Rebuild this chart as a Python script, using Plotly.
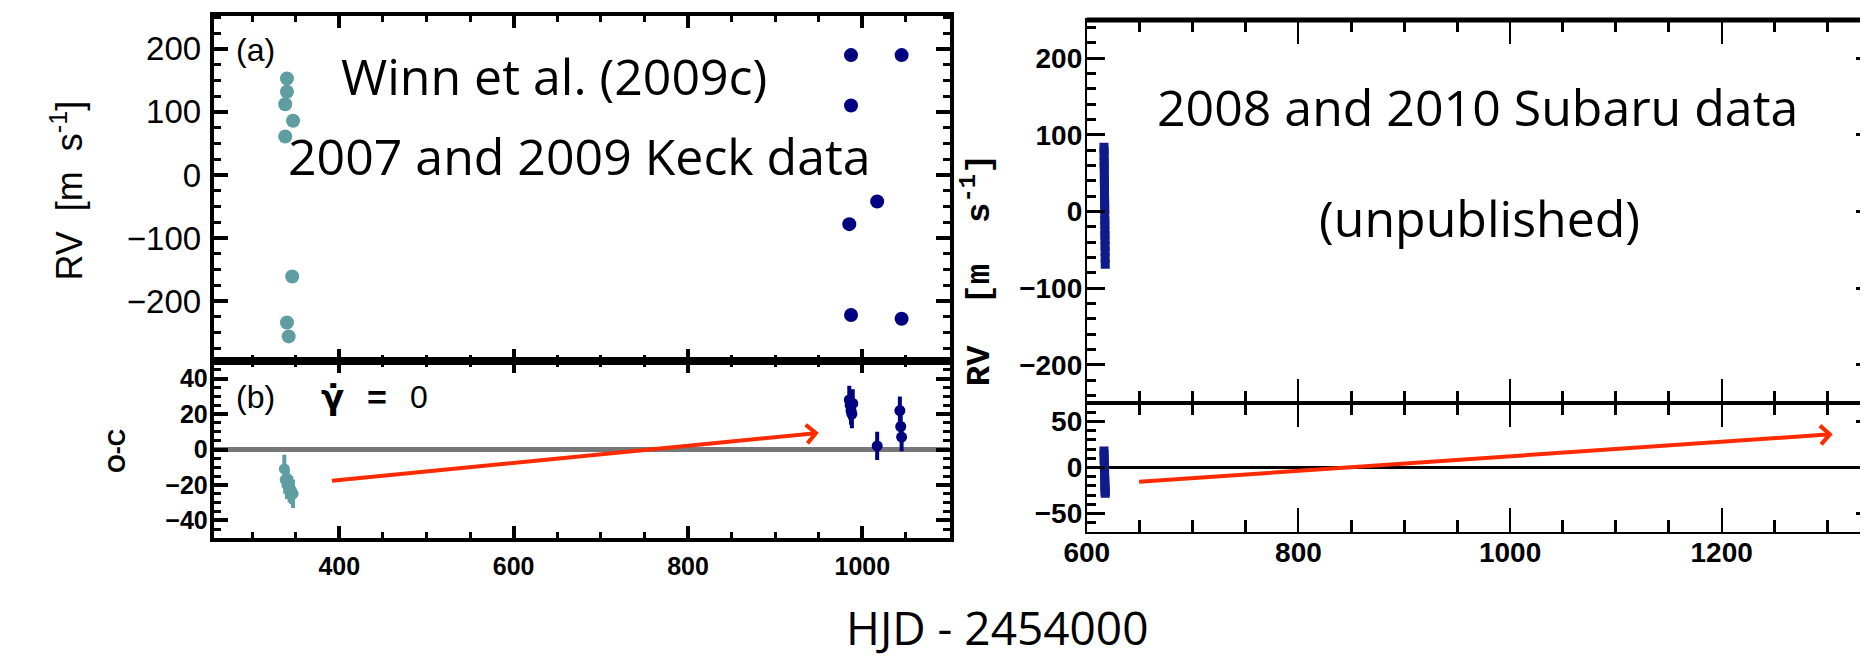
import plotly.graph_objects as go

W, H = 1868, 659

# ---------------- data ----------------
# Panel (a): Keck RVs
keck07_hjd = [340, 340, 338, 347, 338, 346, 340, 342]
keck07_rv = [153, 132, 112, 86, 61, -161, -234, -256]
keck09_hjd = [987, 987, 985, 987, 1017, 1045, 1045]
keck09_rv = [190, 110, -78, -222, -42, 190, -228]

# Panel (b): Keck residuals (O-C)
keck07_res_hjd = [337, 338, 340, 341, 343, 345, 347]
keck07_res = [-11, -17, -20, -19, -22, -23, -25]
keck07_res_err = [8, 8, 8, 8, 8, 8, 8]
keck09_res_hjd = [985, 986, 987, 988, 989, 1017, 1043, 1044, 1045]
keck09_res = [28, 25, 22, 20, 26, 2, 22, 13, 7]
keck09_res_err = [8, 8, 8, 8, 8, 8, 8, 8, 8]

# Right: Subaru RVs
subaru08_hjd = [616.2, 616.3, 616.3, 616.4, 616.4, 616.5, 616.5, 616.6, 616.6, 616.7,
                616.7, 616.8, 616.8, 616.9, 616.9, 617.0, 617.0, 617.1, 617.1, 617.2,
                617.2, 617.3, 617.3, 617.4]
subaru08_rv = [84, 79, 73, 66, 61, 55, 48, 41, 36, 30, 22, 15, 9, 3, -4, -12, -17, -25,
               -31, -38, -45, -52, -60, -69]
subaru10_hjd = [1338, 1338, 1339, 1339, 1340, 1340]
subaru10_rv = [52, 42, 36, -28, -40, -50]

# Right: Subaru residuals
subaru08_res_hjd = [616.2, 616.3, 616.4, 616.5, 616.6, 616.7, 616.8, 616.9, 617.0, 617.1,
                    617.2, 617.3, 617.4]
subaru08_res = [18, 14, 9, 5, 1, -3, -8, -12, -16, -20, -23, -26, -28]
subaru10_res_hjd = [1337, 1338, 1338, 1339, 1339, 1340, 1340]
subaru10_res = [48, 42, 37, 33, 28, 24, 20]
subaru10_res_err = [8, 8, 8, 8, 8, 8, 8]

# trend arrows (tail, head) in data units
arrow_left = dict(tail=(390, -17.7), head=(950, 9.4))
arrow_right = dict(tail=(648, -15.6), head=(1305, 36.2))

# axis ranges
left_x_range = [256, 1100]
left_rv_range = [-295, 252]
left_oc_range = [-50, 50]
right_x_range = [600, 1344]
right_rv_range = [-250, 250]
right_oc_range = [-70, 70]

TEAL = "#5F9EA0"
NAVY = "#000080"
NAVY2 = "#101a8c"
RED = "#ff2a00"


def px_x(p):
    return p / W


def px_y(p):
    return 1 - p / H


fig = go.Figure()

# ---- left panel (a) ----
fig.add_trace(go.Scatter(x=keck07_hjd, y=keck07_rv, mode="markers", xaxis="x", yaxis="y",
                         marker=dict(color=TEAL, size=14), showlegend=False))
fig.add_trace(go.Scatter(x=keck09_hjd, y=keck09_rv, mode="markers", xaxis="x", yaxis="y",
                         marker=dict(color=NAVY, size=14), showlegend=False))
# ---- left panel (b) ----
fig.add_trace(go.Scatter(x=left_x_range, y=[0, 0], mode="lines", xaxis="x2", yaxis="y2",
                         line=dict(color="#777777", width=5), showlegend=False))
fig.add_trace(go.Scatter(x=keck07_res_hjd, y=keck07_res, mode="markers", xaxis="x2", yaxis="y2",
                         error_y=dict(type="data", array=keck07_res_err, color=TEAL,
                                      thickness=4, width=0),
                         marker=dict(color=TEAL, size=11), showlegend=False))
fig.add_trace(go.Scatter(x=keck09_res_hjd, y=keck09_res, mode="markers", xaxis="x2", yaxis="y2",
                         error_y=dict(type="data", array=keck09_res_err, color=NAVY,
                                      thickness=4, width=0),
                         marker=dict(color=NAVY, size=11), showlegend=False))

# ---- right panel top ----
fig.add_trace(go.Scatter(x=subaru08_hjd, y=subaru08_rv, mode="markers", xaxis="x3", yaxis="y3",
                         marker=dict(color=NAVY2, size=9, symbol="square"), showlegend=False))
fig.add_trace(go.Scatter(x=subaru10_hjd, y=subaru10_rv, mode="markers", xaxis="x3", yaxis="y3",
                         marker=dict(color=NAVY2, size=10), showlegend=False))
# ---- right panel bottom ----
fig.add_trace(go.Scatter(x=right_x_range, y=[0, 0], mode="lines", xaxis="x4", yaxis="y4",
                         line=dict(color="black", width=3), showlegend=False))
fig.add_trace(go.Scatter(x=subaru08_res_hjd, y=subaru08_res, mode="markers", xaxis="x4", yaxis="y4",
                         marker=dict(color=NAVY2, size=9, symbol="square"), showlegend=False))
fig.add_trace(go.Scatter(x=subaru10_res_hjd, y=subaru10_res, mode="markers", xaxis="x4", yaxis="y4",
                         error_y=dict(type="data", array=subaru10_res_err, color=NAVY2,
                                      thickness=3, width=0),
                         marker=dict(color=NAVY2, size=9), showlegend=False))

LX = [px_x(185), px_x(930)]
RX = [px_x(1069), px_x(1866)]

sans = "Liberation Sans, Arial, sans-serif"


def left_xaxis(anchor, labels):
    return dict(domain=LX, range=left_x_range, anchor=anchor, showgrid=False, zeroline=False,
                showline=True, linewidth=4, linecolor="black", mirror="allticks",
                ticks="inside", ticklen=12, tickwidth=4, tickcolor="black",
                tick0=0, dtick=200, showticklabels=labels,
                tickfont=dict(family=sans, size=25, color="black", weight="bold"),
                ticklabelstandoff=3,
                minor=dict(dtick=50, tick0=0, ticks="inside", ticklen=6, tickwidth=3,
                           tickcolor="black"))


def right_xaxis(anchor, labels):
    return dict(domain=RX, range=right_x_range, anchor=anchor, showgrid=False, zeroline=False,
                showline=True, linewidth=2, linecolor="black", mirror="allticks",
                ticks="inside", ticklen=24, tickwidth=2, tickcolor="black",
                tick0=0, dtick=200, showticklabels=labels,
                tickfont=dict(family=sans, size=28, color="black", weight="bold"),
                ticklabelstandoff=-6,
                minor=dict(dtick=50, tick0=0, ticks="inside", ticklen=12, tickwidth=3,
                           tickcolor="black"))


fig.update_layout(
    width=W, height=H, margin=dict(l=0, r=0, t=0, b=0),
    paper_bgcolor="white", plot_bgcolor="white", showlegend=False,
    xaxis=left_xaxis("y", False),
    xaxis2=left_xaxis("y2", True),
    xaxis3=right_xaxis("y3", False),
    xaxis4=right_xaxis("y4", True),
    yaxis=dict(domain=[px_y(353), px_y(8)], range=left_rv_range, anchor="x",
               showgrid=False, zeroline=False, showline=True, linewidth=4, linecolor="black",
               mirror="allticks", ticks="inside", ticklen=14, tickwidth=4, tickcolor="black",
               tick0=0, dtick=100, tickfont=dict(family=sans, size=33, color="black"),
               ticklabelstandoff=2,
               minor=dict(dtick=25, tick0=0, ticks="inside", ticklen=7, tickwidth=3,
                          tickcolor="black")),
    yaxis2=dict(domain=[px_y(530), px_y(353)], range=left_oc_range, anchor="x2",
                showgrid=False, zeroline=False, showline=True, linewidth=4, linecolor="black",
                mirror="allticks", ticks="inside", ticklen=14, tickwidth=4, tickcolor="black",
                tick0=0, dtick=20, tickvals=[-40, -20, 0, 20, 40],
                tickfont=dict(family=sans, size=25, color="black", weight="bold"),
                ticklabelstandoff=-3,
                minor=dict(dtick=5, tick0=0, ticks="inside", ticklen=7, tickwidth=3,
                           tickcolor="black")),
    yaxis3=dict(domain=[px_y(395), px_y(12)], range=right_rv_range, anchor="x3",
                showgrid=False, zeroline=False, showline=True, linewidth=2, linecolor="black",
                mirror="allticks", ticks="inside", ticklen=18, tickwidth=3, tickcolor="black",
                tick0=0, dtick=100, tickfont=dict(family=sans, size=28, color="black",
                                                  weight="bold"),
                ticklabelstandoff=-3,
                minor=dict(dtick=20, tick0=0, ticks="inside", ticklen=9, tickwidth=3,
                           tickcolor="black")),
    yaxis4=dict(domain=[px_y(524), px_y(395)], range=right_oc_range, anchor="x4",
                showgrid=False, zeroline=False, showline=True, linewidth=2, linecolor="black",
                mirror="allticks", ticks="inside", ticklen=18, tickwidth=3, tickcolor="black",
                tick0=0, dtick=50, tickfont=dict(family=sans, size=28, color="black",
                                                 weight="bold"),
                ticklabelstandoff=-3,
                minor=dict(dtick=10, tick0=0, ticks="inside", ticklen=9, tickwidth=3,
                           tickcolor="black")),
)

# thicker top frame of right panel
fig.add_shape(type="line", xref="paper", yref="paper", x0=RX[0], x1=RX[1],
              y0=px_y(12), y1=px_y(12), line=dict(color="black", width=5))

# arrows
for ax_, ay_, arr in (("x2", "y2", arrow_left), ("x4", "y4", arrow_right)):
    fig.add_annotation(x=arr["head"][0], y=arr["head"][1], xref=ax_, yref=ay_,
                       ax=arr["tail"][0], ay=arr["tail"][1], axref=ax_, ayref=ay_,
                       text="", showarrow=True, arrowhead=4, arrowsize=0.9, arrowwidth=4,
                       arrowcolor=RED)

ann_font = dict(family="Open Sans, Noto Sans, sans-serif", size=50, color="black")


def ann(text, x, y, font, xanchor="left", yanchor="middle", angle=0):
    fig.add_annotation(text=text, x=px_x(x), y=px_y(y), xref="paper", yref="paper",
                       showarrow=False, font=font, xanchor=xanchor, yanchor=yanchor,
                       textangle=angle)


ann("Winn et al. (2009c)", 312, 68, ann_font)
ann("2007 and 2009 Keck data", 258, 148, ann_font)
ann("2008 and 2010 Subaru data", 1138, 99, ann_font)
ann("(unpublished)", 1302, 210, ann_font)
ann("HJD - 2454000", 978, 652, dict(family="Open Sans, Noto Sans, sans-serif", size=46,
                                    color="black"), xanchor="center", yanchor="bottom")

panel_font = dict(family=sans, size=32, color="black")
ann("(a)", 206, 42, panel_font)
ann("(b)", 206, 389, panel_font)
ann("\u03b3\u0307", 292, 389, dict(family="DejaVu Sans, sans-serif", size=34, color="black",
                                   weight="bold"))
ann("=", 338, 389, dict(family=sans, size=34, color="black", weight="bold"))
ann("0", 382, 389, panel_font)

ann("RV\u00a0\u00a0[m\u00a0\u00a0s<sup>-1</sup>]", 36, 183, dict(family=sans, size=36, color="black"),
    xanchor="center", angle=-90)
ann("O-C", 86, 443, dict(family=sans, size=24, color="black", weight="bold"),
    xanchor="center", angle=-90)
ann("RV\u00a0\u00a0[m\u00a0\u00a0s<sup>-1</sup>]", 958, 262,
    dict(family="Liberation Mono, Courier New, monospace", size=34, color="black", weight="bold"),
    xanchor="center", angle=-90)

fig.write_html("out.html")
